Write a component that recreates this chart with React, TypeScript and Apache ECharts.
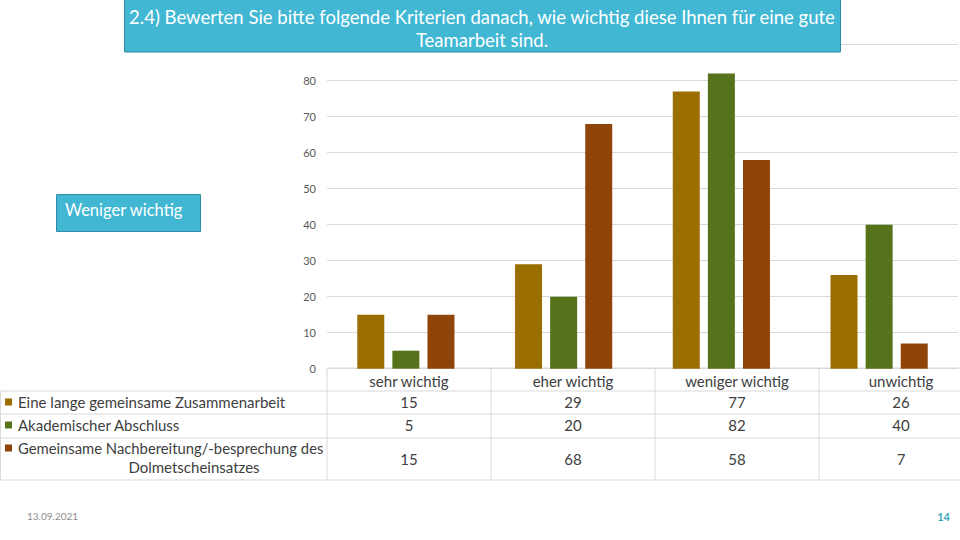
import React, { useEffect, useRef } from "react";
import * as echarts from "echarts";

const categories = ["sehr wichtig", "eher wichtig", "weniger wichtig", "unwichtig"];
const seriesNames = [
  "Eine lange gemeinsame Zusammenarbeit",
  "Akademischer Abschluss",
  "Gemeinsame Nachbereitung/-besprechung des Dolmetscheinsatzes",
];
const langeZusammenarbeit = [15, 29, 77, 26];
const akademischerAbschluss = [5, 20, 82, 40];
const nachbereitung = [15, 68, 58, 7];
const yTicks = [0, 10, 20, 30, 40, 50, 60, 70, 80, 90];
const titleLines = [
  "2.4) Bewerten Sie bitte folgende Kriterien danach, wie wichtig diese Ihnen für eine gute",
  "Teamarbeit sind.",
];
const sideLabel = "Weniger wichtig";
const dateLabel = "13.09.2021";
const pageLabel = "14";

const colors = ["#9A6F00", "#56731B", "#8F4509"];
const FONT = "Lato, 'Noto Sans', sans-serif";

export default function App() {
  const ref = useRef<HTMLDivElement>(null);
  useEffect(() => {
    document.body.style.margin = "0";
    const chart = echarts.init(ref.current!, null, { renderer: "svg" });
    const seriesData = [langeZusammenarbeit, akademischerAbschluss, nachbereitung];

    const colX = [327, 491, 655, 819, 983];
    const rowY = [368, 391, 414, 438, 480];
    const lineColor = "#D9D9D9";
    const textColor = "#404040";
    const g: any[] = [];
    g.push({ type: "line", shape: { x1: 327, y1: rowY[0], x2: 960, y2: rowY[0] }, style: { stroke: lineColor, lineWidth: 1 } });
    for (let r = 1; r < rowY.length; r++) {
      g.push({ type: "line", shape: { x1: 0, y1: rowY[r], x2: 960, y2: rowY[r] }, style: { stroke: lineColor, lineWidth: 1 } });
    }
    g.push({ type: "line", shape: { x1: 0.5, y1: rowY[1], x2: 0.5, y2: rowY[4] }, style: { stroke: lineColor, lineWidth: 1 } });
    for (let c = 0; c < 4; c++) {
      g.push({ type: "line", shape: { x1: colX[c], y1: rowY[0], x2: colX[c], y2: rowY[4] }, style: { stroke: lineColor, lineWidth: 1 } });
    }
    categories.forEach((cat, i) => {
      g.push({
        type: "text",
        x: (colX[i] + colX[i + 1]) / 2,
        y: (rowY[0] + rowY[1]) / 2 + 1,
        style: { text: cat, fill: textColor, font: `15px ${FONT}`, align: "center", verticalAlign: "middle" },
      });
    });
    const rowCenters = [402, 425, 459];
    seriesData.forEach((vals, s) => {
      vals.forEach((v, i) => {
        g.push({
          type: "text",
          x: (colX[i] + colX[i + 1]) / 2,
          y: rowCenters[s],
          style: { text: String(v), fill: textColor, font: `15px ${FONT}`, align: "center", verticalAlign: "middle" },
        });
      });
    });
    const keyY = [402, 425, 448];
    seriesNames.forEach((name, s) => {
      g.push({ type: "rect", shape: { x: 5, y: keyY[s] - 3.5, width: 7, height: 7 }, style: { fill: colors[s] } });
      if (s < 2) {
        g.push({
          type: "text",
          x: 18,
          y: keyY[s],
          style: { text: name, fill: textColor, font: `15px ${FONT}`, align: "left", verticalAlign: "middle" },
        });
      } else {
        const split = name.lastIndexOf(" ");
        g.push({
          type: "text",
          x: 18,
          y: keyY[s],
          style: { text: name.slice(0, split), fill: textColor, font: `14.8px ${FONT}`, align: "left", verticalAlign: "middle" },
        });
        g.push({
          type: "text",
          x: 194,
          y: 467,
          style: { text: name.slice(split + 1), fill: textColor, font: `15px ${FONT}`, align: "center", verticalAlign: "middle" },
        });
      }
    });
    g.push({
      type: "rect",
      z: 100,
      shape: { x: 124.5, y: -1, width: 716, height: 53 },
      style: { fill: "#41B7D3", stroke: "#2E8CA4", lineWidth: 1 },
    });
    titleLines.forEach((t, i) => {
      g.push({
        type: "text",
        z: 101,
        x: 482,
        y: 17 + i * 23,
        style: { text: t, fill: "#FFFFFF", font: `18.5px ${FONT}`, align: "center", verticalAlign: "middle" },
      });
    });
    g.push({
      type: "rect",
      z: 100,
      shape: { x: 56.5, y: 194.5, width: 144, height: 37 },
      style: { fill: "#41B7D3", stroke: "#2E8CA4", lineWidth: 1 },
    });
    g.push({
      type: "text",
      z: 101,
      x: 65,
      y: 210,
      style: { text: sideLabel, fill: "#FFFFFF", font: `16.5px ${FONT}`, align: "left", verticalAlign: "middle" },
    });
    g.push({
      type: "text",
      x: 27,
      y: 516,
      style: { text: dateLabel, fill: "#8C8C8C", font: `10px ${FONT}`, align: "left", verticalAlign: "middle" },
    });
    g.push({
      type: "text",
      x: 950,
      y: 516,
      style: { text: pageLabel, fill: "#3AA6B9", font: `bold 11px ${FONT}`, align: "right", verticalAlign: "middle" },
    });

    chart.setOption({
      animation: false,
      grid: { left: 327, right: 2, top: 44.7, bottom: 171.3 },
      xAxis: {
        type: "category",
        data: categories,
        axisLine: { show: false },
        axisTick: { show: false },
        axisLabel: { show: false },
      },
      yAxis: {
        type: "value",
        min: yTicks[0],
        max: yTicks[yTicks.length - 1],
        interval: 10,
        axisLine: { show: false },
        axisTick: { show: false },
        splitLine: { lineStyle: { color: "#D9D9D9", width: 1 } },
        axisLabel: {
          color: "#595959",
          fontSize: 11,
          fontFamily: FONT,
          margin: 11,
          formatter: (v: number) => (v === 90 ? "" : String(v)),
        },
      },
      series: seriesData.map((d, s) => ({
        name: seriesNames[s],
        type: "bar",
        data: d,
        barWidth: 27,
        barGap: "30%",
        itemStyle: { color: colors[s] },
      })),
      graphic: g,
    });
    return () => chart.dispose();
  }, []);
  return <div ref={ref} style={{ position: "fixed", left: 0, top: 0, width: 960, height: 540, background: "#fff" }} />;
}
